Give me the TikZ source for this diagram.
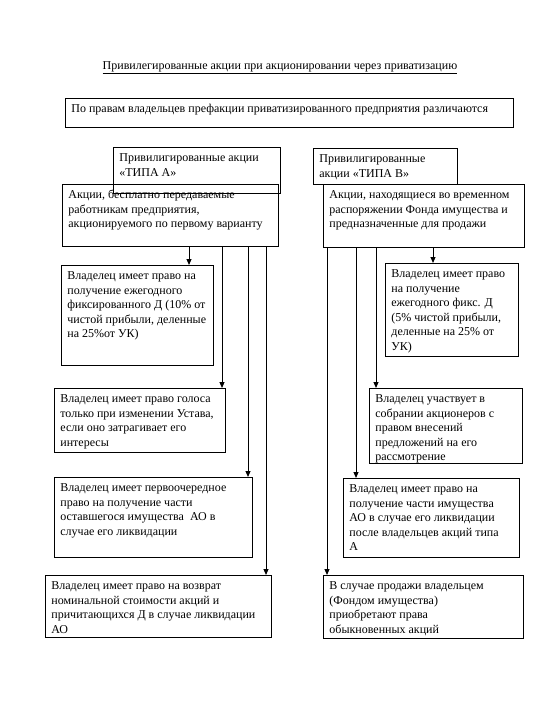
\documentclass[tikz,border=0pt]{standalone}
\usepackage{fontspec}
\setmainfont{Liberation Serif}
\usetikzlibrary{arrows.meta}
\newcommand\bx[6]{%
  \pgfmathsetmacro\myBW{#4-#2-12}%
  \pgfmathsetmacro\myBH{#5-#3-8}%
  \node[box] (#1) at (#2,#3) {\parbox[t][\myBH pt][t]{\myBW pt}{\begin{tabular}[t]{@{}l@{}}#6\end{tabular}}};}
\begin{document}
\begin{tikzpicture}[x=1pt,y=-1pt,
  box/.style={draw, line width=0.8pt, inner xsep=6pt, inner ysep=4pt, anchor=north west, font=\fontsize{12}{14.5}\selectfont},
  arr/.style={line width=1pt, -{Triangle[length=6pt,width=5pt]}},
  ln/.style={line width=0.9pt}]
\useasboundingbox (0,0) rectangle (540,720);
\node[font=\fontsize{12}{14.5}\selectfont, anchor=base] (title) at (280,69) {\underline{Привилегированные акции при акционировании через приватизацию}};
\bx{top}{65}{98}{513}{127}{По правам владельцев префакции приватизированного предприятия различаются}
\bx{bA}{62}{184}{278}{246}{Акции, бесплатно передаваемые\\работникам предприятия,\\акционируемого по первому варианту}
\bx{hA}{113}{147}{280}{193}{Привилигированные акции\\«ТИПА А»}
\bx{hB}{313}{148}{457}{184}{Привилигированные\\акции «ТИПА В»}
\bx{bB}{323}{184}{524}{247}{Акции, находящиеся во временном\\распоряжении Фонда имущества и\\предназначенные для продажи}
\bx{a1}{61}{265}{213}{365}{Владелец имеет право на\\получение ежегодного\\фиксированного Д (10\% от\\чистой прибыли, деленные\\на 25\%от УК)}
\bx{b1}{385}{263}{518}{356}{Владелец имеет право\\на получение\\ежегодного фикс. Д\\(5\% чистой прибыли,\\деленные на 25\% от\\УК)}
\bx{a2}{54}{388}{225}{452}{Владелец имеет право голоса\\только при изменении Устава,\\если оно затрагивает его\\интересы}
\bx{b2}{369}{388}{522}{463}{Владелец участвует в\\собрании акционеров с\\правом внесений\\предложений на его\\рассмотрение}
\bx{a3}{54}{477}{252}{557}{Владелец имеет первоочередное\\право на получение части\\оставшегося имущества~ АО в\\случае его ликвидации}
\bx{b3}{343}{478}{519}{557}{Владелец имеет право на\\получение части имущества\\АО в случае его ликвидации\\после владельцев акций типа\\А}
\bx{a4}{45}{575}{271}{637}{Владелец имеет право на возврат\\номинальной стоимости акций и\\причитающихся Д в случае ликвидации\\АО}
\bx{b4}{323}{575}{523}{638}{В случае продажи владельцем\\(Фондом имущества)\\приобретают права\\обыкновенных акций}
\coordinate (xa1) at (189,0);
\coordinate (xa2) at (222,0);
\coordinate (xa3) at (248,0);
\coordinate (xa4) at (266,0);
\coordinate (xb1) at (433,0);
\coordinate (xb2) at (376,0);
\coordinate (xb3) at (356,0);
\coordinate (xb4) at (327,0);
\draw[arr] (bA.south -| xa1) -- (a1.north -| xa1);
\draw[arr] (bA.south -| xa2) -- (a2.north -| xa2);
\draw[arr] (bA.south -| xa3) -- (a3.north -| xa3);
\draw[arr] (bA.south -| xa4) -- (a4.north -| xa4);
\draw[arr] (bB.south -| xb1) -- (b1.north -| xb1);
\draw[arr] (bB.south -| xb2) -- (b2.north -| xb2);
\draw[arr] (bB.south -| xb3) -- (b3.north -| xb3);
\draw[arr] (bB.south -| xb4) -- (b4.north -| xb4);
\end{tikzpicture}
\end{document}
